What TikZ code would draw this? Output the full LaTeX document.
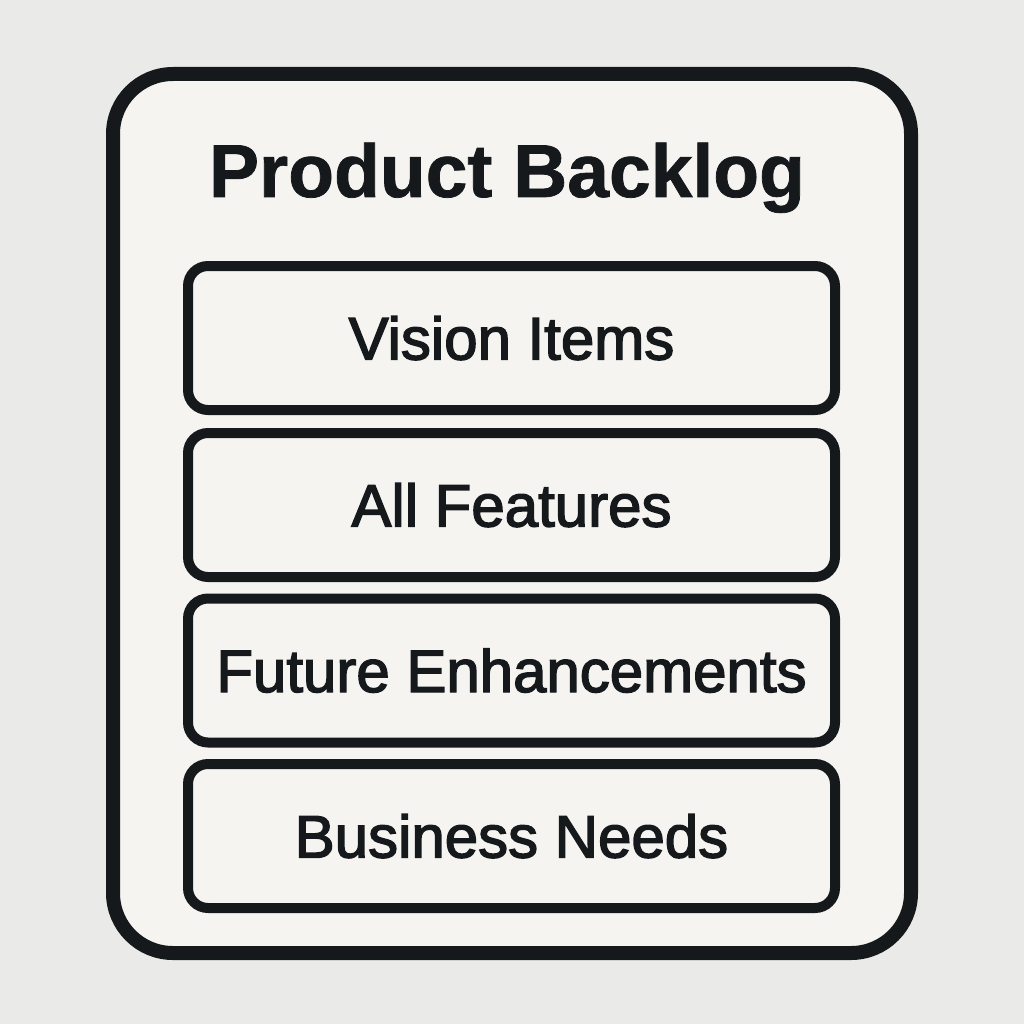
\documentclass[tikz,border=0pt]{standalone}
\usepackage{fontspec}
\setmainfont{Liberation Sans}
\newfontfamily\itemfont[FakeBold=2.4]{Liberation Sans}
\newfontfamily\titlefont[FakeBold=1]{Liberation Sans Bold}
\definecolor{bgc}{HTML}{EAEAE8}
\definecolor{boxc}{HTML}{F5F4F1}
\definecolor{ink}{HTML}{15191C}
\begin{document}
\begin{tikzpicture}[x=1pt,y=-1pt,
  itembox/.style={draw=ink, fill=boxc, line width=10pt, rounded corners=20pt,
    minimum width=647pt, minimum height=144pt, inner sep=0pt,
    text height=43pt, text depth=0pt, text=ink,
    font=\itemfont\fontsize{60pt}{62pt}\selectfont}]
  \fill[bgc] (0,0) rectangle (1024,1024);
  \useasboundingbox (0,0) rectangle (1024,1024);
  \draw[draw=ink, fill=boxc, line width=14pt, rounded corners=60pt] (113,74) rectangle (911,953);
  \node[anchor=base, text=ink, font=\titlefont\fontsize{75pt}{80pt}\selectfont] (title) at (507,197) {Product Backlog};
  \node[itembox] (vision) at (511.5,338) {Vision Items};
  \node[itembox] (features) at (511.5,505) {All Features};
  \node[itembox] (future) at (511.5,670.5) {Future Enhancements};
  \node[itembox] (business) at (511.5,836) {Business Needs};
\end{tikzpicture}
\end{document}
